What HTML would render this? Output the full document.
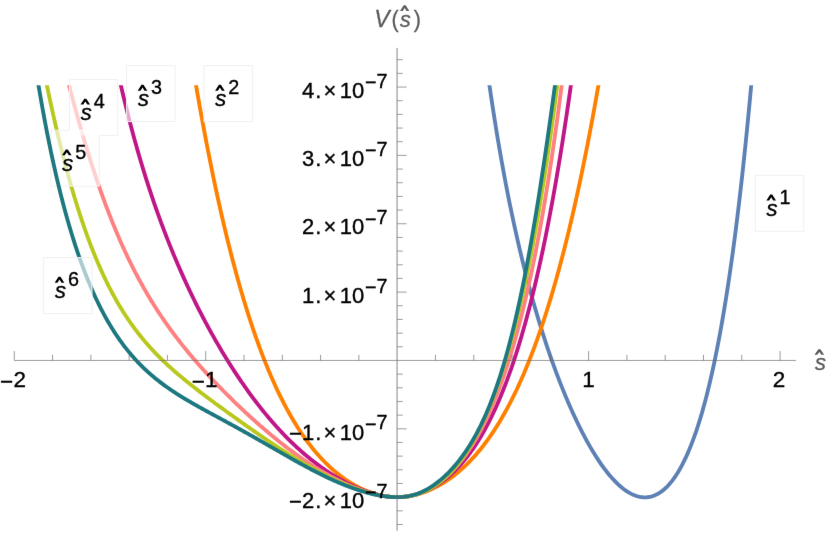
<!DOCTYPE html>
<html><head><meta charset="utf-8"><title>V(s) plot</title>
<style>
html,body{margin:0;padding:0;background:#fff;}
body{width:830px;height:535px;overflow:hidden;font-family:"Liberation Sans",sans-serif;}
svg text{font-family:"Liberation Sans",sans-serif;}
</style></head><body>
<svg width="830" height="535" viewBox="0 0 830 535" style="display:block">
<defs><filter id="soft" filterUnits="userSpaceOnUse" x="0" y="0" width="830" height="535" color-interpolation-filters="sRGB"><feConvolveMatrix order="3" kernelMatrix="0.0028 0.0470 0.0028 0.0470 0.8008 0.0470 0.0028 0.0470 0.0028" edgeMode="duplicate" preserveAlpha="true"/></filter></defs>
<g filter="url(#soft)">
<rect width="830" height="535" fill="#fff"/>
<defs><clipPath id="c"><rect x="0" y="85.2" width="830" height="449.8"/></clipPath></defs>
<path clip-path="url(#c)" fill="none" stroke-width="3.85" stroke-linejoin="round" stroke="#5E81B5" d="M487.9,74.45 L488.9,81.49 L489.9,88.41 L490.9,95.21 L491.9,101.88 L492.9,108.44 L493.9,114.89 L494.9,121.22 L495.9,127.45 L496.9,133.57 L497.9,139.59 L498.9,145.50 L499.9,151.32 L500.9,157.04 L501.9,162.66 L502.9,168.20 L503.9,173.64 L504.9,179.00 L505.9,184.27 L506.9,189.46 L507.9,194.56 L508.9,199.59 L509.9,204.54 L510.9,209.41 L511.9,214.20 L512.9,218.93 L513.9,223.58 L514.9,228.17 L515.9,232.69 L516.9,237.14 L517.9,241.52 L518.9,245.85 L519.9,250.11 L520.9,254.31 L521.9,258.45 L522.9,262.54 L523.9,266.56 L524.9,270.54 L525.9,274.46 L526.9,278.32 L527.9,282.14 L528.9,285.90 L529.9,289.61 L530.9,293.28 L531.9,296.90 L532.9,300.47 L533.9,303.99 L534.9,307.48 L535.9,310.91 L536.9,314.31 L537.9,317.66 L538.9,320.97 L539.9,324.24 L540.9,327.47 L541.9,330.66 L542.9,333.81 L543.9,336.93 L544.9,340.01 L545.9,343.05 L546.9,346.05 L547.9,349.02 L548.9,351.96 L549.9,354.86 L550.9,357.72 L551.9,360.56 L552.9,363.36 L553.9,366.12 L554.9,368.86 L555.9,371.56 L556.9,374.23 L557.9,376.87 L558.9,379.48 L559.9,382.07 L560.9,384.62 L561.9,387.14 L562.9,389.63 L563.9,392.09 L564.9,394.52 L565.9,396.93 L566.9,399.30 L567.9,401.65 L568.9,403.97 L569.9,406.26 L570.9,408.52 L571.9,410.76 L572.9,412.97 L573.9,415.15 L574.9,417.30 L575.9,419.43 L576.9,421.53 L577.9,423.60 L578.9,425.65 L579.9,427.67 L580.9,429.66 L581.9,431.62 L582.9,433.56 L583.9,435.47 L584.9,437.36 L585.9,439.22 L586.9,441.05 L587.9,442.85 L588.9,444.63 L589.9,446.38 L590.9,448.11 L591.9,449.80 L592.9,451.47 L593.9,453.12 L594.9,454.73 L595.9,456.32 L596.9,457.88 L597.9,459.42 L598.9,460.92 L599.9,462.40 L600.9,463.85 L601.9,465.28 L602.9,466.67 L603.9,468.04 L604.9,469.38 L605.9,470.69 L606.9,471.97 L607.9,473.22 L608.9,474.45 L609.9,475.64 L610.9,476.81 L611.9,477.94 L612.9,479.05 L613.9,480.13 L614.9,481.18 L615.9,482.19 L616.9,483.18 L617.9,484.13 L618.9,485.06 L619.9,485.95 L620.9,486.81 L621.9,487.64 L622.9,488.44 L623.9,489.21 L624.9,489.94 L625.9,490.64 L626.9,491.31 L627.9,491.95 L628.9,492.55 L629.9,493.11 L630.9,493.65 L631.9,494.15 L632.9,494.61 L633.9,495.04 L634.9,495.43 L635.9,495.79 L636.9,496.11 L637.9,496.40 L638.9,496.65 L639.9,496.86 L640.9,497.03 L641.9,497.16 L642.9,497.26 L643.9,497.32 L644.9,497.34 L645.9,497.31 L646.9,497.25 L647.9,497.15 L648.9,497.01 L649.9,496.82 L650.9,496.59 L651.9,496.33 L652.9,496.01 L653.9,495.66 L654.9,495.26 L655.9,494.81 L656.9,494.32 L657.9,493.78 L658.9,493.20 L659.9,492.57 L660.9,491.89 L661.9,491.17 L662.9,490.39 L663.9,489.57 L664.9,488.69 L665.9,487.77 L666.9,486.79 L667.9,485.76 L668.9,484.68 L669.9,483.54 L670.9,482.35 L671.9,481.10 L672.9,479.80 L673.9,478.44 L674.9,477.02 L675.9,475.54 L676.9,474.00 L677.9,472.40 L678.9,470.74 L679.9,469.02 L680.9,467.23 L681.9,465.38 L682.9,463.46 L683.9,461.48 L684.9,459.42 L685.9,457.30 L686.9,455.11 L687.9,452.85 L688.9,450.51 L689.9,448.10 L690.9,445.62 L691.9,443.05 L692.9,440.42 L693.9,437.70 L694.9,434.90 L695.9,432.02 L696.9,429.05 L697.9,426.00 L698.9,422.87 L699.9,419.65 L700.9,416.33 L701.9,412.93 L702.9,409.43 L703.9,405.84 L704.9,402.15 L705.9,398.37 L706.9,394.48 L707.9,390.50 L708.9,386.41 L709.9,382.21 L710.9,377.91 L711.9,373.49 L712.9,368.97 L713.9,364.33 L714.9,359.58 L715.9,354.70 L716.9,349.71 L717.9,344.60 L718.9,339.36 L719.9,333.99 L720.9,328.49 L721.9,322.86 L722.9,317.10 L723.9,311.20 L724.9,305.15 L725.9,298.97 L726.9,292.64 L727.9,286.16 L728.9,279.53 L729.9,272.75 L730.9,265.81 L731.9,258.70 L732.9,251.44 L733.9,244.01 L734.9,236.41 L735.9,228.63 L736.9,220.68 L737.9,212.55 L738.9,204.24 L739.9,195.73 L740.9,187.04 L741.9,178.16 L742.9,169.07 L743.9,159.78 L744.9,150.29 L745.9,140.59 L746.9,130.67 L747.9,120.54 L748.9,110.18 L749.9,99.60 L750.9,88.78 L751.9,77.73"/>
<rect x="755.3" y="175.3" width="48.4" height="56" fill="#fff" fill-opacity="0.62" stroke="#f0f0f0" stroke-width="1"/>
<text x="766.6" y="215.9" font-size="22" font-style="italic" stroke="#000" stroke-width="0.35">s</text>
<path fill="#000" d="M766.40,200.40 L770.21,194.50 L772.19,194.50 L776.00,200.40 L773.23,200.40 L771.20,197.29 L769.17,200.40 Z"/>
<text x="779.6" y="203.7" font-size="19.8" stroke="#000" stroke-width="0.35">1</text>
<path clip-path="url(#c)" fill="none" stroke-width="3.85" stroke-linejoin="round" stroke="#FF8000" d="M194.5,76.40 L195.5,82.28 L196.5,88.10 L197.5,93.85 L198.5,99.54 L199.5,105.17 L200.5,110.74 L201.5,116.25 L202.5,121.71 L203.5,127.10 L204.5,132.43 L205.5,137.70 L206.5,142.92 L207.5,148.08 L208.5,153.18 L209.5,158.22 L210.5,163.21 L211.5,168.14 L212.5,173.02 L213.5,177.84 L214.5,182.61 L215.5,187.32 L216.5,191.98 L217.5,196.58 L218.5,201.14 L219.5,205.64 L220.5,210.08 L221.5,214.48 L222.5,218.82 L223.5,223.12 L224.5,227.36 L225.5,231.55 L226.5,235.70 L227.5,239.79 L228.5,243.84 L229.5,247.83 L230.5,251.78 L231.5,255.68 L232.5,259.54 L233.5,263.35 L234.5,267.11 L235.5,270.82 L236.5,274.49 L237.5,278.12 L238.5,281.69 L239.5,285.23 L240.5,288.72 L241.5,292.17 L242.5,295.57 L243.5,298.94 L244.5,302.25 L245.5,305.53 L246.5,308.77 L247.5,311.96 L248.5,315.12 L249.5,318.23 L250.5,321.30 L251.5,324.33 L252.5,327.33 L253.5,330.28 L254.5,333.20 L255.5,336.08 L256.5,338.92 L257.5,341.72 L258.5,344.49 L259.5,347.22 L260.5,349.91 L261.5,352.57 L262.5,355.19 L263.5,357.77 L264.5,360.33 L265.5,362.84 L266.5,365.32 L267.5,367.77 L268.5,370.19 L269.5,372.57 L270.5,374.92 L271.5,377.24 L272.5,379.52 L273.5,381.77 L274.5,384.00 L275.5,386.19 L276.5,388.35 L277.5,390.47 L278.5,392.57 L279.5,394.64 L280.5,396.68 L281.5,398.69 L282.5,400.68 L283.5,402.63 L284.5,404.55 L285.5,406.45 L286.5,408.32 L287.5,410.16 L288.5,411.98 L289.5,413.77 L290.5,415.53 L291.5,417.27 L292.5,418.98 L293.5,420.67 L294.5,422.33 L295.5,423.96 L296.5,425.57 L297.5,427.16 L298.5,428.72 L299.5,430.26 L300.5,431.78 L301.5,433.27 L302.5,434.74 L303.5,436.18 L304.5,437.61 L305.5,439.01 L306.5,440.39 L307.5,441.75 L308.5,443.09 L309.5,444.40 L310.5,445.70 L311.5,446.97 L312.5,448.23 L313.5,449.46 L314.5,450.67 L315.5,451.87 L316.5,453.04 L317.5,454.20 L318.5,455.33 L319.5,456.45 L320.5,457.55 L321.5,458.63 L322.5,459.69 L323.5,460.74 L324.5,461.76 L325.5,462.77 L326.5,463.76 L327.5,464.74 L328.5,465.69 L329.5,466.63 L330.5,467.56 L331.5,468.46 L332.5,469.35 L333.5,470.23 L334.5,471.09 L335.5,471.93 L336.5,472.76 L337.5,473.57 L338.5,474.36 L339.5,475.14 L340.5,475.91 L341.5,476.66 L342.5,477.39 L343.5,478.12 L344.5,478.82 L345.5,479.51 L346.5,480.19 L347.5,480.85 L348.5,481.50 L349.5,482.14 L350.5,482.76 L351.5,483.37 L352.5,483.96 L353.5,484.54 L354.5,485.11 L355.5,485.66 L356.5,486.20 L357.5,486.72 L358.5,487.24 L359.5,487.74 L360.5,488.22 L361.5,488.70 L362.5,489.16 L363.5,489.61 L364.5,490.04 L365.5,490.46 L366.5,490.87 L367.5,491.27 L368.5,491.65 L369.5,492.02 L370.5,492.38 L371.5,492.72 L372.5,493.06 L373.5,493.38 L374.5,493.68 L375.5,493.98 L376.5,494.26 L377.5,494.53 L378.5,494.78 L379.5,495.03 L380.5,495.26 L381.5,495.47 L382.5,495.68 L383.5,495.87 L384.5,496.05 L385.5,496.21 L386.5,496.36 L387.5,496.50 L388.5,496.63 L389.5,496.74 L390.5,496.84 L391.5,496.93 L392.5,497.00 L393.5,497.06 L394.5,497.10 L395.5,497.13 L396.5,497.15 L397.5,497.15 L398.5,497.14 L399.5,497.11 L400.5,497.07 L401.5,497.02 L402.5,496.95 L403.5,496.87 L404.5,496.78 L405.5,496.67 L406.5,496.55 L407.5,496.41 L408.5,496.26 L409.5,496.10 L410.5,495.92 L411.5,495.74 L412.5,495.54 L413.5,495.32 L414.5,495.09 L415.5,494.85 L416.5,494.60 L417.5,494.33 L418.5,494.05 L419.5,493.76 L420.5,493.45 L421.5,493.14 L422.5,492.80 L423.5,492.46 L424.5,492.10 L425.5,491.73 L426.5,491.35 L427.5,490.95 L428.5,490.54 L429.5,490.12 L430.5,489.68 L431.5,489.23 L432.5,488.77 L433.5,488.29 L434.5,487.80 L435.5,487.30 L436.5,486.79 L437.5,486.26 L438.5,485.71 L439.5,485.16 L440.5,484.59 L441.5,484.00 L442.5,483.40 L443.5,482.79 L444.5,482.17 L445.5,481.52 L446.5,480.87 L447.5,480.20 L448.5,479.52 L449.5,478.82 L450.5,478.11 L451.5,477.38 L452.5,476.64 L453.5,475.88 L454.5,475.11 L455.5,474.32 L456.5,473.51 L457.5,472.70 L458.5,471.86 L459.5,471.01 L460.5,470.14 L461.5,469.26 L462.5,468.36 L463.5,467.45 L464.5,466.51 L465.5,465.56 L466.5,464.60 L467.5,463.61 L468.5,462.61 L469.5,461.59 L470.5,460.56 L471.5,459.50 L472.5,458.43 L473.5,457.34 L474.5,456.23 L475.5,455.11 L476.5,453.96 L477.5,452.80 L478.5,451.61 L479.5,450.41 L480.5,449.18 L481.5,447.94 L482.5,446.68 L483.5,445.39 L484.5,444.09 L485.5,442.76 L486.5,441.41 L487.5,440.05 L488.5,438.66 L489.5,437.25 L490.5,435.81 L491.5,434.36 L492.5,432.88 L493.5,431.38 L494.5,429.86 L495.5,428.31 L496.5,426.74 L497.5,425.14 L498.5,423.53 L499.5,421.88 L500.5,420.22 L501.5,418.52 L502.5,416.81 L503.5,415.07 L504.5,413.30 L505.5,411.50 L506.5,409.68 L507.5,407.84 L508.5,405.96 L509.5,404.06 L510.5,402.13 L511.5,400.18 L512.5,398.19 L513.5,396.18 L514.5,394.14 L515.5,392.07 L516.5,389.97 L517.5,387.84 L518.5,385.68 L519.5,383.49 L520.5,381.27 L521.5,379.02 L522.5,376.74 L523.5,374.43 L524.5,372.08 L525.5,369.71 L526.5,367.30 L527.5,364.85 L528.5,362.38 L529.5,359.87 L530.5,357.33 L531.5,354.75 L532.5,352.14 L533.5,349.49 L534.5,346.81 L535.5,344.09 L536.5,341.34 L537.5,338.55 L538.5,335.73 L539.5,332.86 L540.5,329.96 L541.5,327.03 L542.5,324.05 L543.5,321.04 L544.5,317.98 L545.5,314.89 L546.5,311.76 L547.5,308.59 L548.5,305.38 L549.5,302.12 L550.5,298.83 L551.5,295.50 L552.5,292.12 L553.5,288.70 L554.5,285.24 L555.5,281.74 L556.5,278.19 L557.5,274.60 L558.5,270.96 L559.5,267.28 L560.5,263.56 L561.5,259.79 L562.5,255.97 L563.5,252.11 L564.5,248.21 L565.5,244.25 L566.5,240.25 L567.5,236.20 L568.5,232.10 L569.5,227.96 L570.5,223.76 L571.5,219.52 L572.5,215.23 L573.5,210.88 L574.5,206.49 L575.5,202.04 L576.5,197.55 L577.5,193.00 L578.5,188.40 L579.5,183.75 L580.5,179.04 L581.5,174.29 L582.5,169.47 L583.5,164.61 L584.5,159.69 L585.5,154.71 L586.5,149.68 L587.5,144.59 L588.5,139.45 L589.5,134.25 L590.5,128.99 L591.5,123.68 L592.5,118.31 L593.5,112.88 L594.5,107.39 L595.5,101.84 L596.5,96.23 L597.5,90.56 L598.5,84.84 L599.5,79.05"/>
<rect x="204" y="65.6" width="48.4" height="56" fill="#fff" fill-opacity="0.62" stroke="#f0f0f0" stroke-width="1"/>
<text x="215.3" y="106.2" font-size="22" font-style="italic" stroke="#000" stroke-width="0.35">s</text>
<path fill="#000" d="M215.10,90.70 L218.91,84.80 L220.89,84.80 L224.70,90.70 L221.93,90.70 L219.90,87.59 L217.87,90.70 Z"/>
<text x="228.3" y="94.0" font-size="19.8" stroke="#000" stroke-width="0.35">2</text>
<path clip-path="url(#c)" fill="none" stroke-width="3.85" stroke-linejoin="round" stroke="#C01788" d="M119.3,78.58 L120.3,82.96 L121.3,87.29 L122.3,91.56 L123.3,95.77 L124.3,99.93 L125.3,104.03 L126.3,108.08 L127.3,112.07 L128.3,116.02 L129.3,119.91 L130.3,123.76 L131.3,127.55 L132.3,131.30 L133.3,135.01 L134.3,138.66 L135.3,142.28 L136.3,145.85 L137.3,149.37 L138.3,152.86 L139.3,156.30 L140.3,159.70 L141.3,163.07 L142.3,166.39 L143.3,169.68 L144.3,172.92 L145.3,176.14 L146.3,179.31 L147.3,182.45 L148.3,185.56 L149.3,188.63 L150.3,191.67 L151.3,194.68 L152.3,197.65 L153.3,200.60 L154.3,203.51 L155.3,206.39 L156.3,209.24 L157.3,212.07 L158.3,214.86 L159.3,217.63 L160.3,220.37 L161.3,223.09 L162.3,225.77 L163.3,228.43 L164.3,231.07 L165.3,233.68 L166.3,236.27 L167.3,238.83 L168.3,241.37 L169.3,243.88 L170.3,246.38 L171.3,248.85 L172.3,251.29 L173.3,253.72 L174.3,256.13 L175.3,258.51 L176.3,260.87 L177.3,263.22 L178.3,265.54 L179.3,267.85 L180.3,270.13 L181.3,272.40 L182.3,274.64 L183.3,276.87 L184.3,279.09 L185.3,281.28 L186.3,283.45 L187.3,285.61 L188.3,287.76 L189.3,289.88 L190.3,291.99 L191.3,294.08 L192.3,296.16 L193.3,298.22 L194.3,300.26 L195.3,302.29 L196.3,304.31 L197.3,306.31 L198.3,308.29 L199.3,310.26 L200.3,312.22 L201.3,314.16 L202.3,316.09 L203.3,318.00 L204.3,319.90 L205.3,321.79 L206.3,323.66 L207.3,325.52 L208.3,327.37 L209.3,329.20 L210.3,331.02 L211.3,332.83 L212.3,334.62 L213.3,336.41 L214.3,338.17 L215.3,339.93 L216.3,341.68 L217.3,343.41 L218.3,345.13 L219.3,346.84 L220.3,348.54 L221.3,350.22 L222.3,351.90 L223.3,353.56 L224.3,355.21 L225.3,356.85 L226.3,358.48 L227.3,360.09 L228.3,361.70 L229.3,363.29 L230.3,364.87 L231.3,366.45 L232.3,368.01 L233.3,369.56 L234.3,371.09 L235.3,372.62 L236.3,374.14 L237.3,375.65 L238.3,377.14 L239.3,378.63 L240.3,380.10 L241.3,381.57 L242.3,383.02 L243.3,384.46 L244.3,385.90 L245.3,387.32 L246.3,388.73 L247.3,390.13 L248.3,391.52 L249.3,392.90 L250.3,394.28 L251.3,395.64 L252.3,396.99 L253.3,398.33 L254.3,399.66 L255.3,400.98 L256.3,402.29 L257.3,403.59 L258.3,404.88 L259.3,406.16 L260.3,407.43 L261.3,408.69 L262.3,409.94 L263.3,411.18 L264.3,412.41 L265.3,413.63 L266.3,414.85 L267.3,416.05 L268.3,417.24 L269.3,418.42 L270.3,419.60 L271.3,420.76 L272.3,421.91 L273.3,423.06 L274.3,424.19 L275.3,425.32 L276.3,426.43 L277.3,427.54 L278.3,428.64 L279.3,429.72 L280.3,430.80 L281.3,431.87 L282.3,432.93 L283.3,433.98 L284.3,435.02 L285.3,436.05 L286.3,437.07 L287.3,438.09 L288.3,439.09 L289.3,440.08 L290.3,441.07 L291.3,442.05 L292.3,443.01 L293.3,443.97 L294.3,444.92 L295.3,445.86 L296.3,446.79 L297.3,447.72 L298.3,448.63 L299.3,449.54 L300.3,450.43 L301.3,451.32 L302.3,452.20 L303.3,453.07 L304.3,453.93 L305.3,454.78 L306.3,455.63 L307.3,456.46 L308.3,457.29 L309.3,458.11 L310.3,458.92 L311.3,459.72 L312.3,460.51 L313.3,461.30 L314.3,462.08 L315.3,462.84 L316.3,463.60 L317.3,464.36 L318.3,465.10 L319.3,465.83 L320.3,466.56 L321.3,467.28 L322.3,467.99 L323.3,468.69 L324.3,469.39 L325.3,470.07 L326.3,470.75 L327.3,471.42 L328.3,472.08 L329.3,472.74 L330.3,473.38 L331.3,474.02 L332.3,474.65 L333.3,475.27 L334.3,475.89 L335.3,476.50 L336.3,477.09 L337.3,477.68 L338.3,478.27 L339.3,478.84 L340.3,479.41 L341.3,479.97 L342.3,480.52 L343.3,481.06 L344.3,481.60 L345.3,482.12 L346.3,482.64 L347.3,483.16 L348.3,483.66 L349.3,484.15 L350.3,484.64 L351.3,485.12 L352.3,485.59 L353.3,486.06 L354.3,486.51 L355.3,486.96 L356.3,487.40 L357.3,487.83 L358.3,488.25 L359.3,488.66 L360.3,489.07 L361.3,489.46 L362.3,489.85 L363.3,490.23 L364.3,490.60 L365.3,490.96 L366.3,491.32 L367.3,491.66 L368.3,492.00 L369.3,492.32 L370.3,492.64 L371.3,492.95 L372.3,493.24 L373.3,493.53 L374.3,493.81 L375.3,494.08 L376.3,494.34 L377.3,494.59 L378.3,494.82 L379.3,495.05 L380.3,495.27 L381.3,495.48 L382.3,495.67 L383.3,495.86 L384.3,496.03 L385.3,496.19 L386.3,496.34 L387.3,496.48 L388.3,496.60 L389.3,496.72 L390.3,496.82 L391.3,496.91 L392.3,496.98 L393.3,497.04 L394.3,497.09 L395.3,497.12 L396.3,497.14 L397.3,497.15 L398.3,497.14 L399.3,497.12 L400.3,497.08 L401.3,497.02 L402.3,496.96 L403.3,496.87 L404.3,496.78 L405.3,496.66 L406.3,496.54 L407.3,496.39 L408.3,496.24 L409.3,496.06 L410.3,495.88 L411.3,495.67 L412.3,495.46 L413.3,495.23 L414.3,494.98 L415.3,494.71 L416.3,494.44 L417.3,494.14 L418.3,493.83 L419.3,493.51 L420.3,493.17 L421.3,492.81 L422.3,492.44 L423.3,492.05 L424.3,491.65 L425.3,491.23 L426.3,490.79 L427.3,490.34 L428.3,489.87 L429.3,489.38 L430.3,488.88 L431.3,488.36 L432.3,487.82 L433.3,487.26 L434.3,486.69 L435.3,486.10 L436.3,485.49 L437.3,484.86 L438.3,484.22 L439.3,483.56 L440.3,482.87 L441.3,482.17 L442.3,481.45 L443.3,480.71 L444.3,479.96 L445.3,479.18 L446.3,478.38 L447.3,477.56 L448.3,476.72 L449.3,475.86 L450.3,474.98 L451.3,474.08 L452.3,473.16 L453.3,472.22 L454.3,471.25 L455.3,470.26 L456.3,469.25 L457.3,468.22 L458.3,467.16 L459.3,466.08 L460.3,464.98 L461.3,463.85 L462.3,462.70 L463.3,461.52 L464.3,460.32 L465.3,459.09 L466.3,457.84 L467.3,456.56 L468.3,455.26 L469.3,453.93 L470.3,452.57 L471.3,451.18 L472.3,449.77 L473.3,448.33 L474.3,446.86 L475.3,445.36 L476.3,443.83 L477.3,442.27 L478.3,440.68 L479.3,439.06 L480.3,437.41 L481.3,435.73 L482.3,434.02 L483.3,432.27 L484.3,430.49 L485.3,428.68 L486.3,426.84 L487.3,424.96 L488.3,423.04 L489.3,421.09 L490.3,419.11 L491.3,417.09 L492.3,415.03 L493.3,412.94 L494.3,410.80 L495.3,408.63 L496.3,406.43 L497.3,404.18 L498.3,401.89 L499.3,399.56 L500.3,397.19 L501.3,394.78 L502.3,392.33 L503.3,389.83 L504.3,387.30 L505.3,384.71 L506.3,382.09 L507.3,379.42 L508.3,376.70 L509.3,373.94 L510.3,371.13 L511.3,368.27 L512.3,365.37 L513.3,362.42 L514.3,359.41 L515.3,356.36 L516.3,353.26 L517.3,350.10 L518.3,346.90 L519.3,343.64 L520.3,340.33 L521.3,336.96 L522.3,333.54 L523.3,330.07 L524.3,326.53 L525.3,322.95 L526.3,319.30 L527.3,315.59 L528.3,311.83 L529.3,308.01 L530.3,304.12 L531.3,300.18 L532.3,296.17 L533.3,292.10 L534.3,287.97 L535.3,283.77 L536.3,279.50 L537.3,275.17 L538.3,270.78 L539.3,266.31 L540.3,261.78 L541.3,257.18 L542.3,252.51 L543.3,247.76 L544.3,242.95 L545.3,238.06 L546.3,233.10 L547.3,228.06 L548.3,222.95 L549.3,217.76 L550.3,212.49 L551.3,207.15 L552.3,201.72 L553.3,196.22 L554.3,190.64 L555.3,184.97 L556.3,179.22 L557.3,173.39 L558.3,167.47 L559.3,161.46 L560.3,155.37 L561.3,149.19 L562.3,142.93 L563.3,136.57 L564.3,130.12 L565.3,123.58 L566.3,116.95 L567.3,110.22 L568.3,103.40 L569.3,96.48 L570.3,89.47 L571.3,82.35"/>
<rect x="126.6" y="65.6" width="48.4" height="56" fill="#fff" fill-opacity="0.62" stroke="#f0f0f0" stroke-width="1"/>
<text x="137.9" y="106.2" font-size="22" font-style="italic" stroke="#000" stroke-width="0.35">s</text>
<path fill="#000" d="M137.70,90.70 L141.51,84.80 L143.49,84.80 L147.30,90.70 L144.53,90.70 L142.50,87.59 L140.47,90.70 Z"/>
<text x="150.9" y="94.0" font-size="19.8" stroke="#000" stroke-width="0.35">3</text>
<path clip-path="url(#c)" fill="none" stroke-width="3.85" stroke-linejoin="round" stroke="#FF8080" d="M67.4,78.76 L68.4,82.68 L69.4,86.57 L70.4,90.42 L71.4,94.24 L72.4,98.03 L73.4,101.78 L74.4,105.49 L75.4,109.18 L76.4,112.82 L77.4,116.44 L78.4,120.02 L79.4,123.56 L80.4,127.07 L81.4,130.55 L82.4,133.99 L83.4,137.40 L84.4,140.78 L85.4,144.12 L86.4,147.43 L87.4,150.70 L88.4,153.94 L89.4,157.15 L90.4,160.32 L91.4,163.46 L92.4,166.57 L93.4,169.65 L94.4,172.69 L95.4,175.70 L96.4,178.68 L97.4,181.63 L98.4,184.54 L99.4,187.43 L100.4,190.28 L101.4,193.10 L102.4,195.89 L103.4,198.65 L104.4,201.39 L105.4,204.09 L106.4,206.76 L107.4,209.40 L108.4,212.01 L109.4,214.59 L110.4,217.15 L111.4,219.67 L112.4,222.17 L113.4,224.64 L114.4,227.09 L115.4,229.50 L116.4,231.89 L117.4,234.25 L118.4,236.59 L119.4,238.90 L120.4,241.18 L121.4,243.44 L122.4,245.67 L123.4,247.88 L124.4,250.07 L125.4,252.23 L126.4,254.36 L127.4,256.48 L128.4,258.57 L129.4,260.63 L130.4,262.68 L131.4,264.70 L132.4,266.70 L133.4,268.68 L134.4,270.63 L135.4,272.57 L136.4,274.48 L137.4,276.38 L138.4,278.25 L139.4,280.11 L140.4,281.94 L141.4,283.76 L142.4,285.55 L143.4,287.33 L144.4,289.09 L145.4,290.83 L146.4,292.56 L147.4,294.26 L148.4,295.95 L149.4,297.62 L150.4,299.28 L151.4,300.92 L152.4,302.54 L153.4,304.15 L154.4,305.74 L155.4,307.32 L156.4,308.88 L157.4,310.43 L158.4,311.96 L159.4,313.48 L160.4,314.99 L161.4,316.48 L162.4,317.96 L163.4,319.42 L164.4,320.88 L165.4,322.32 L166.4,323.74 L167.4,325.16 L168.4,326.56 L169.4,327.96 L170.4,329.34 L171.4,330.71 L172.4,332.07 L173.4,333.41 L174.4,334.75 L175.4,336.08 L176.4,337.40 L177.4,338.70 L178.4,340.00 L179.4,341.29 L180.4,342.57 L181.4,343.84 L182.4,345.10 L183.4,346.35 L184.4,347.60 L185.4,348.83 L186.4,350.06 L187.4,351.28 L188.4,352.49 L189.4,353.69 L190.4,354.89 L191.4,356.08 L192.4,357.26 L193.4,358.43 L194.4,359.60 L195.4,360.76 L196.4,361.92 L197.4,363.06 L198.4,364.21 L199.4,365.34 L200.4,366.47 L201.4,367.59 L202.4,368.71 L203.4,369.82 L204.4,370.93 L205.4,372.03 L206.4,373.12 L207.4,374.21 L208.4,375.29 L209.4,376.37 L210.4,377.45 L211.4,378.52 L212.4,379.58 L213.4,380.64 L214.4,381.69 L215.4,382.74 L216.4,383.79 L217.4,384.83 L218.4,385.86 L219.4,386.90 L220.4,387.92 L221.4,388.95 L222.4,389.97 L223.4,390.98 L224.4,391.99 L225.4,393.00 L226.4,394.00 L227.4,395.00 L228.4,395.99 L229.4,396.98 L230.4,397.97 L231.4,398.95 L232.4,399.93 L233.4,400.90 L234.4,401.88 L235.4,402.84 L236.4,403.81 L237.4,404.77 L238.4,405.72 L239.4,406.68 L240.4,407.62 L241.4,408.57 L242.4,409.51 L243.4,410.45 L244.4,411.38 L245.4,412.31 L246.4,413.24 L247.4,414.16 L248.4,415.08 L249.4,416.00 L250.4,416.91 L251.4,417.82 L252.4,418.72 L253.4,419.62 L254.4,420.52 L255.4,421.41 L256.4,422.30 L257.4,423.19 L258.4,424.07 L259.4,424.95 L260.4,425.83 L261.4,426.70 L262.4,427.56 L263.4,428.43 L264.4,429.28 L265.4,430.14 L266.4,430.99 L267.4,431.84 L268.4,432.68 L269.4,433.52 L270.4,434.36 L271.4,435.19 L272.4,436.02 L273.4,436.84 L274.4,437.66 L275.4,438.47 L276.4,439.28 L277.4,440.09 L278.4,440.89 L279.4,441.69 L280.4,442.48 L281.4,443.27 L282.4,444.06 L283.4,444.84 L284.4,445.62 L285.4,446.39 L286.4,447.16 L287.4,447.92 L288.4,448.68 L289.4,449.43 L290.4,450.18 L291.4,450.92 L292.4,451.66 L293.4,452.40 L294.4,453.13 L295.4,453.86 L296.4,454.58 L297.4,455.30 L298.4,456.01 L299.4,456.71 L300.4,457.42 L301.4,458.11 L302.4,458.81 L303.4,459.49 L304.4,460.18 L305.4,460.85 L306.4,461.53 L307.4,462.19 L308.4,462.86 L309.4,463.51 L310.4,464.17 L311.4,464.81 L312.4,465.46 L313.4,466.09 L314.4,466.73 L315.4,467.35 L316.4,467.97 L317.4,468.59 L318.4,469.20 L319.4,469.81 L320.4,470.41 L321.4,471.00 L322.4,471.59 L323.4,472.18 L324.4,472.75 L325.4,473.33 L326.4,473.90 L327.4,474.46 L328.4,475.02 L329.4,475.57 L330.4,476.11 L331.4,476.65 L332.4,477.19 L333.4,477.72 L334.4,478.24 L335.4,478.76 L336.4,479.27 L337.4,479.78 L338.4,480.28 L339.4,480.77 L340.4,481.26 L341.4,481.75 L342.4,482.22 L343.4,482.70 L344.4,483.16 L345.4,483.62 L346.4,484.07 L347.4,484.52 L348.4,484.96 L349.4,485.40 L350.4,485.83 L351.4,486.25 L352.4,486.66 L353.4,487.07 L354.4,487.48 L355.4,487.87 L356.4,488.26 L357.4,488.65 L358.4,489.02 L359.4,489.39 L360.4,489.75 L361.4,490.11 L362.4,490.46 L363.4,490.80 L364.4,491.13 L365.4,491.46 L366.4,491.78 L367.4,492.09 L368.4,492.40 L369.4,492.69 L370.4,492.98 L371.4,493.26 L372.4,493.53 L373.4,493.80 L374.4,494.05 L375.4,494.30 L376.4,494.54 L377.4,494.77 L378.4,494.99 L379.4,495.20 L380.4,495.40 L381.4,495.59 L382.4,495.77 L383.4,495.94 L384.4,496.10 L385.4,496.25 L386.4,496.39 L387.4,496.52 L388.4,496.64 L389.4,496.75 L390.4,496.84 L391.4,496.92 L392.4,496.99 L393.4,497.05 L394.4,497.10 L395.4,497.13 L396.4,497.15 L397.4,497.15 L398.4,497.14 L399.4,497.11 L400.4,497.08 L401.4,497.02 L402.4,496.95 L403.4,496.87 L404.4,496.77 L405.4,496.65 L406.4,496.52 L407.4,496.38 L408.4,496.22 L409.4,496.04 L410.4,495.85 L411.4,495.64 L412.4,495.41 L413.4,495.17 L414.4,494.91 L415.4,494.64 L416.4,494.34 L417.4,494.03 L418.4,493.71 L419.4,493.36 L420.4,493.00 L421.4,492.62 L422.4,492.22 L423.4,491.80 L424.4,491.37 L425.4,490.92 L426.4,490.45 L427.4,489.96 L428.4,489.45 L429.4,488.92 L430.4,488.37 L431.4,487.81 L432.4,487.22 L433.4,486.61 L434.4,485.99 L435.4,485.34 L436.4,484.67 L437.4,483.99 L438.4,483.28 L439.4,482.55 L440.4,481.80 L441.4,481.02 L442.4,480.23 L443.4,479.41 L444.4,478.57 L445.4,477.71 L446.4,476.83 L447.4,475.92 L448.4,474.99 L449.4,474.04 L450.4,473.06 L451.4,472.06 L452.4,471.03 L453.4,469.98 L454.4,468.90 L455.4,467.80 L456.4,466.68 L457.4,465.52 L458.4,464.34 L459.4,463.14 L460.4,461.91 L461.4,460.65 L462.4,459.36 L463.4,458.04 L464.4,456.70 L465.4,455.33 L466.4,453.92 L467.4,452.49 L468.4,451.03 L469.4,449.54 L470.4,448.01 L471.4,446.46 L472.4,444.87 L473.4,443.25 L474.4,441.60 L475.4,439.92 L476.4,438.20 L477.4,436.45 L478.4,434.66 L479.4,432.84 L480.4,430.98 L481.4,429.09 L482.4,427.16 L483.4,425.19 L484.4,423.18 L485.4,421.14 L486.4,419.05 L487.4,416.93 L488.4,414.77 L489.4,412.56 L490.4,410.31 L491.4,408.03 L492.4,405.69 L493.4,403.32 L494.4,400.90 L495.4,398.43 L496.4,395.92 L497.4,393.37 L498.4,390.76 L499.4,388.11 L500.4,385.41 L501.4,382.66 L502.4,379.86 L503.4,377.00 L504.4,374.10 L505.4,371.14 L506.4,368.13 L507.4,365.06 L508.4,361.94 L509.4,358.76 L510.4,355.53 L511.4,352.24 L512.4,348.88 L513.4,345.47 L514.4,342.00 L515.4,338.46 L516.4,334.86 L517.4,331.20 L518.4,327.47 L519.4,323.67 L520.4,319.81 L521.4,315.88 L522.4,311.88 L523.4,307.81 L524.4,303.67 L525.4,299.45 L526.4,295.16 L527.4,290.79 L528.4,286.35 L529.4,281.83 L530.4,277.23 L531.4,272.55 L532.4,267.79 L533.4,262.94 L534.4,258.01 L535.4,253.00 L536.4,247.90 L537.4,242.70 L538.4,237.42 L539.4,232.05 L540.4,226.59 L541.4,221.03 L542.4,215.37 L543.4,209.62 L544.4,203.77 L545.4,197.82 L546.4,191.77 L547.4,185.61 L548.4,179.35 L549.4,172.98 L550.4,166.51 L551.4,159.92 L552.4,153.22 L553.4,146.41 L554.4,139.48 L555.4,132.44 L556.4,125.28 L557.4,117.99 L558.4,110.59 L559.4,103.06 L560.4,95.40 L561.4,87.62 L562.4,79.71"/>
<rect x="69.4" y="79.5" width="48.4" height="56" fill="#fff" fill-opacity="0.62"/>
<path d="M69.4,130.2 V79.5 H117.80000000000001 V135.5 H99.3" fill="none" stroke="#f0f0f0" stroke-width="1"/>
<text x="80.7" y="120.1" font-size="22" font-style="italic" stroke="#000" stroke-width="0.35">s</text>
<path fill="#000" d="M80.50,104.60 L84.31,98.70 L86.29,98.70 L90.10,104.60 L87.33,104.60 L85.30,101.49 L83.27,104.60 Z"/>
<text x="93.7" y="107.9" font-size="19.8" stroke="#000" stroke-width="0.35">4</text>
<path clip-path="url(#c)" fill="none" stroke-width="3.85" stroke-linejoin="round" stroke="#B8C81E" d="M45.4,78.10 L46.4,83.00 L47.4,87.84 L48.4,92.62 L49.4,97.34 L50.4,102.00 L51.4,106.60 L52.4,111.15 L53.4,115.63 L54.4,120.05 L55.4,124.42 L56.4,128.72 L57.4,132.98 L58.4,137.17 L59.4,141.31 L60.4,145.39 L61.4,149.42 L62.4,153.39 L63.4,157.31 L64.4,161.17 L65.4,164.98 L66.4,168.74 L67.4,172.44 L68.4,176.09 L69.4,179.69 L70.4,183.24 L71.4,186.74 L72.4,190.19 L73.4,193.59 L74.4,196.95 L75.4,200.25 L76.4,203.50 L77.4,206.71 L78.4,209.87 L79.4,212.99 L80.4,216.05 L81.4,219.08 L82.4,222.06 L83.4,224.99 L84.4,227.88 L85.4,230.73 L86.4,233.53 L87.4,236.30 L88.4,239.02 L89.4,241.70 L90.4,244.34 L91.4,246.94 L92.4,249.50 L93.4,252.02 L94.4,254.50 L95.4,256.95 L96.4,259.36 L97.4,261.73 L98.4,264.06 L99.4,266.36 L100.4,268.62 L101.4,270.85 L102.4,273.05 L103.4,275.21 L104.4,277.34 L105.4,279.43 L106.4,281.50 L107.4,283.53 L108.4,285.53 L109.4,287.50 L110.4,289.44 L111.4,291.35 L112.4,293.24 L113.4,295.09 L114.4,296.91 L115.4,298.71 L116.4,300.48 L117.4,302.22 L118.4,303.94 L119.4,305.63 L120.4,307.30 L121.4,308.94 L122.4,310.56 L123.4,312.15 L124.4,313.72 L125.4,315.27 L126.4,316.79 L127.4,318.30 L128.4,319.78 L129.4,321.24 L130.4,322.68 L131.4,324.09 L132.4,325.49 L133.4,326.87 L134.4,328.23 L135.4,329.57 L136.4,330.89 L137.4,332.20 L138.4,333.49 L139.4,334.76 L140.4,336.01 L141.4,337.25 L142.4,338.47 L143.4,339.68 L144.4,340.87 L145.4,342.04 L146.4,343.20 L147.4,344.35 L148.4,345.48 L149.4,346.60 L150.4,347.71 L151.4,348.80 L152.4,349.88 L153.4,350.95 L154.4,352.01 L155.4,353.05 L156.4,354.09 L157.4,355.11 L158.4,356.12 L159.4,357.12 L160.4,358.11 L161.4,359.10 L162.4,360.07 L163.4,361.03 L164.4,361.99 L165.4,362.93 L166.4,363.87 L167.4,364.80 L168.4,365.72 L169.4,366.63 L170.4,367.54 L171.4,368.43 L172.4,369.32 L173.4,370.21 L174.4,371.09 L175.4,371.96 L176.4,372.82 L177.4,373.68 L178.4,374.54 L179.4,375.38 L180.4,376.22 L181.4,377.06 L182.4,377.89 L183.4,378.72 L184.4,379.54 L185.4,380.36 L186.4,381.17 L187.4,381.98 L188.4,382.79 L189.4,383.59 L190.4,384.39 L191.4,385.18 L192.4,385.97 L193.4,386.76 L194.4,387.54 L195.4,388.32 L196.4,389.10 L197.4,389.88 L198.4,390.65 L199.4,391.42 L200.4,392.18 L201.4,392.95 L202.4,393.71 L203.4,394.47 L204.4,395.23 L205.4,395.98 L206.4,396.74 L207.4,397.49 L208.4,398.24 L209.4,398.99 L210.4,399.73 L211.4,400.48 L212.4,401.22 L213.4,401.96 L214.4,402.70 L215.4,403.44 L216.4,404.18 L217.4,404.91 L218.4,405.65 L219.4,406.38 L220.4,407.11 L221.4,407.84 L222.4,408.57 L223.4,409.30 L224.4,410.03 L225.4,410.76 L226.4,411.48 L227.4,412.20 L228.4,412.93 L229.4,413.65 L230.4,414.37 L231.4,415.09 L232.4,415.81 L233.4,416.53 L234.4,417.25 L235.4,417.96 L236.4,418.68 L237.4,419.39 L238.4,420.11 L239.4,420.82 L240.4,421.53 L241.4,422.24 L242.4,422.95 L243.4,423.66 L244.4,424.37 L245.4,425.07 L246.4,425.78 L247.4,426.48 L248.4,427.18 L249.4,427.89 L250.4,428.59 L251.4,429.29 L252.4,429.98 L253.4,430.68 L254.4,431.38 L255.4,432.07 L256.4,432.76 L257.4,433.46 L258.4,434.15 L259.4,434.83 L260.4,435.52 L261.4,436.21 L262.4,436.89 L263.4,437.57 L264.4,438.26 L265.4,438.93 L266.4,439.61 L267.4,440.29 L268.4,440.96 L269.4,441.64 L270.4,442.31 L271.4,442.97 L272.4,443.64 L273.4,444.31 L274.4,444.97 L275.4,445.63 L276.4,446.29 L277.4,446.94 L278.4,447.60 L279.4,448.25 L280.4,448.90 L281.4,449.55 L282.4,450.19 L283.4,450.84 L284.4,451.48 L285.4,452.12 L286.4,452.75 L287.4,453.38 L288.4,454.01 L289.4,454.64 L290.4,455.27 L291.4,455.89 L292.4,456.51 L293.4,457.13 L294.4,457.74 L295.4,458.35 L296.4,458.96 L297.4,459.57 L298.4,460.17 L299.4,460.77 L300.4,461.37 L301.4,461.96 L302.4,462.55 L303.4,463.14 L304.4,463.72 L305.4,464.30 L306.4,464.88 L307.4,465.45 L308.4,466.02 L309.4,466.59 L310.4,467.16 L311.4,467.72 L312.4,468.27 L313.4,468.83 L314.4,469.38 L315.4,469.92 L316.4,470.47 L317.4,471.01 L318.4,471.54 L319.4,472.07 L320.4,472.60 L321.4,473.12 L322.4,473.65 L323.4,474.16 L324.4,474.67 L325.4,475.18 L326.4,475.69 L327.4,476.19 L328.4,476.68 L329.4,477.18 L330.4,477.66 L331.4,478.15 L332.4,478.63 L333.4,479.10 L334.4,479.57 L335.4,480.04 L336.4,480.50 L337.4,480.96 L338.4,481.41 L339.4,481.86 L340.4,482.31 L341.4,482.75 L342.4,483.18 L343.4,483.61 L344.4,484.04 L345.4,484.46 L346.4,484.87 L347.4,485.28 L348.4,485.69 L349.4,486.09 L350.4,486.48 L351.4,486.87 L352.4,487.26 L353.4,487.64 L354.4,488.01 L355.4,488.38 L356.4,488.74 L357.4,489.10 L358.4,489.45 L359.4,489.80 L360.4,490.13 L361.4,490.47 L362.4,490.79 L363.4,491.11 L364.4,491.43 L365.4,491.74 L366.4,492.04 L367.4,492.33 L368.4,492.62 L369.4,492.90 L370.4,493.17 L371.4,493.44 L372.4,493.69 L373.4,493.94 L374.4,494.19 L375.4,494.42 L376.4,494.65 L377.4,494.87 L378.4,495.08 L379.4,495.28 L380.4,495.47 L381.4,495.65 L382.4,495.83 L383.4,495.99 L384.4,496.14 L385.4,496.29 L386.4,496.42 L387.4,496.55 L388.4,496.66 L389.4,496.76 L390.4,496.85 L391.4,496.93 L392.4,497.00 L393.4,497.06 L394.4,497.10 L395.4,497.13 L396.4,497.15 L397.4,497.15 L398.4,497.14 L399.4,497.12 L400.4,497.08 L401.4,497.03 L402.4,496.96 L403.4,496.88 L404.4,496.78 L405.4,496.67 L406.4,496.54 L407.4,496.40 L408.4,496.24 L409.4,496.07 L410.4,495.88 L411.4,495.68 L412.4,495.46 L413.4,495.22 L414.4,494.96 L415.4,494.69 L416.4,494.40 L417.4,494.10 L418.4,493.77 L419.4,493.43 L420.4,493.07 L421.4,492.70 L422.4,492.30 L423.4,491.88 L424.4,491.45 L425.4,491.00 L426.4,490.53 L427.4,490.03 L428.4,489.52 L429.4,488.99 L430.4,488.44 L431.4,487.86 L432.4,487.27 L433.4,486.65 L434.4,486.02 L435.4,485.36 L436.4,484.68 L437.4,483.97 L438.4,483.25 L439.4,482.50 L440.4,481.73 L441.4,480.93 L442.4,480.11 L443.4,479.26 L444.4,478.40 L445.4,477.50 L446.4,476.58 L447.4,475.64 L448.4,474.67 L449.4,473.67 L450.4,472.64 L451.4,471.59 L452.4,470.51 L453.4,469.41 L454.4,468.27 L455.4,467.11 L456.4,465.91 L457.4,464.69 L458.4,463.44 L459.4,462.16 L460.4,460.84 L461.4,459.50 L462.4,458.12 L463.4,456.71 L464.4,455.27 L465.4,453.79 L466.4,452.29 L467.4,450.74 L468.4,449.17 L469.4,447.56 L470.4,445.91 L471.4,444.22 L472.4,442.50 L473.4,440.75 L474.4,438.95 L475.4,437.12 L476.4,435.25 L477.4,433.34 L478.4,431.38 L479.4,429.39 L480.4,427.36 L481.4,425.28 L482.4,423.17 L483.4,421.01 L484.4,418.80 L485.4,416.56 L486.4,414.26 L487.4,411.92 L488.4,409.54 L489.4,407.11 L490.4,404.63 L491.4,402.10 L492.4,399.53 L493.4,396.90 L494.4,394.22 L495.4,391.50 L496.4,388.72 L497.4,385.89 L498.4,383.00 L499.4,380.06 L500.4,377.07 L501.4,374.02 L502.4,370.91 L503.4,367.75 L504.4,364.52 L505.4,361.24 L506.4,357.90 L507.4,354.50 L508.4,351.03 L509.4,347.51 L510.4,343.92 L511.4,340.26 L512.4,336.54 L513.4,332.76 L514.4,328.91 L515.4,324.98 L516.4,320.99 L517.4,316.93 L518.4,312.80 L519.4,308.60 L520.4,304.32 L521.4,299.97 L522.4,295.55 L523.4,291.05 L524.4,286.47 L525.4,281.81 L526.4,277.07 L527.4,272.25 L528.4,267.36 L529.4,262.37 L530.4,257.31 L531.4,252.16 L532.4,246.92 L533.4,241.60 L534.4,236.18 L535.4,230.68 L536.4,225.08 L537.4,219.40 L538.4,213.62 L539.4,207.74 L540.4,201.77 L541.4,195.70 L542.4,189.54 L543.4,183.27 L544.4,176.90 L545.4,170.43 L546.4,163.85 L547.4,157.17 L548.4,150.38 L549.4,143.49 L550.4,136.48 L551.4,129.36 L552.4,122.13 L553.4,114.79 L554.4,107.33 L555.4,99.75 L556.4,92.06 L557.4,84.24 L558.4,76.30"/>
<rect x="50.9" y="130.2" width="48.4" height="56" fill="#fff" fill-opacity="0.62"/>
<path d="M69.4,130.2 H50.9 V186.2 H99.3 V135.5" fill="none" stroke="#f0f0f0" stroke-width="1"/>
<path d="M69.4,130.2 H99.3" fill="none" stroke="#fff" stroke-opacity="0.6" stroke-width="1.6"/>
<text x="62.2" y="170.8" font-size="22" font-style="italic" stroke="#000" stroke-width="0.35">s</text>
<path fill="#000" d="M62.00,155.30 L65.81,149.40 L67.79,149.40 L71.60,155.30 L68.83,155.30 L66.80,152.19 L64.77,155.30 Z"/>
<text x="75.2" y="158.6" font-size="19.8" stroke="#000" stroke-width="0.35">5</text>
<path clip-path="url(#c)" fill="none" stroke-width="3.85" stroke-linejoin="round" stroke="#1E7880" d="M36.8,75.00 L37.8,81.11 L38.8,87.10 L39.8,92.99 L40.8,98.76 L41.8,104.43 L42.8,110.00 L43.8,115.47 L44.8,120.84 L45.8,126.10 L46.8,131.28 L47.8,136.36 L48.8,141.34 L49.8,146.24 L50.8,151.05 L51.8,155.77 L52.8,160.40 L53.8,164.96 L54.8,169.43 L55.8,173.82 L56.8,178.13 L57.8,182.36 L58.8,186.52 L59.8,190.60 L60.8,194.61 L61.8,198.55 L62.8,202.42 L63.8,206.22 L64.8,209.95 L65.8,213.62 L66.8,217.22 L67.8,220.75 L68.8,224.23 L69.8,227.64 L70.8,230.99 L71.8,234.28 L72.8,237.52 L73.8,240.69 L74.8,243.81 L75.8,246.88 L76.8,249.89 L77.8,252.85 L78.8,255.76 L79.8,258.61 L80.8,261.42 L81.8,264.18 L82.8,266.89 L83.8,269.55 L84.8,272.16 L85.8,274.73 L86.8,277.26 L87.8,279.74 L88.8,282.17 L89.8,284.57 L90.8,286.92 L91.8,289.23 L92.8,291.50 L93.8,293.74 L94.8,295.93 L95.8,298.09 L96.8,300.20 L97.8,302.29 L98.8,304.33 L99.8,306.34 L100.8,308.32 L101.8,310.26 L102.8,312.17 L103.8,314.04 L104.8,315.89 L105.8,317.70 L106.8,319.48 L107.8,321.23 L108.8,322.95 L109.8,324.64 L110.8,326.30 L111.8,327.94 L112.8,329.54 L113.8,331.12 L114.8,332.68 L115.8,334.20 L116.8,335.70 L117.8,337.18 L118.8,338.63 L119.8,340.06 L120.8,341.46 L121.8,342.84 L122.8,344.19 L123.8,345.53 L124.8,346.84 L125.8,348.13 L126.8,349.40 L127.8,350.65 L128.8,351.88 L129.8,353.08 L130.8,354.27 L131.8,355.44 L132.8,356.59 L133.8,357.73 L134.8,358.84 L135.8,359.94 L136.8,361.02 L137.8,362.08 L138.8,363.13 L139.8,364.16 L140.8,365.17 L141.8,366.17 L142.8,367.16 L143.8,368.12 L144.8,369.08 L145.8,370.02 L146.8,370.95 L147.8,371.86 L148.8,372.76 L149.8,373.65 L150.8,374.52 L151.8,375.38 L152.8,376.24 L153.8,377.07 L154.8,377.90 L155.8,378.72 L156.8,379.52 L157.8,380.32 L158.8,381.10 L159.8,381.88 L160.8,382.64 L161.8,383.40 L162.8,384.15 L163.8,384.89 L164.8,385.61 L165.8,386.33 L166.8,387.05 L167.8,387.75 L168.8,388.45 L169.8,389.14 L170.8,389.82 L171.8,390.50 L172.8,391.16 L173.8,391.83 L174.8,392.48 L175.8,393.13 L176.8,393.77 L177.8,394.41 L178.8,395.04 L179.8,395.67 L180.8,396.29 L181.8,396.91 L182.8,397.52 L183.8,398.13 L184.8,398.73 L185.8,399.33 L186.8,399.93 L187.8,400.52 L188.8,401.11 L189.8,401.69 L190.8,402.27 L191.8,402.85 L192.8,403.42 L193.8,404.00 L194.8,404.57 L195.8,405.13 L196.8,405.70 L197.8,406.26 L198.8,406.82 L199.8,407.38 L200.8,407.93 L201.8,408.49 L202.8,409.04 L203.8,409.59 L204.8,410.14 L205.8,410.69 L206.8,411.24 L207.8,411.78 L208.8,412.33 L209.8,412.88 L210.8,413.42 L211.8,413.96 L212.8,414.51 L213.8,415.05 L214.8,415.59 L215.8,416.13 L216.8,416.68 L217.8,417.22 L218.8,417.76 L219.8,418.30 L220.8,418.84 L221.8,419.39 L222.8,419.93 L223.8,420.47 L224.8,421.01 L225.8,421.56 L226.8,422.10 L227.8,422.65 L228.8,423.19 L229.8,423.74 L230.8,424.28 L231.8,424.83 L232.8,425.38 L233.8,425.93 L234.8,426.48 L235.8,427.03 L236.8,427.58 L237.8,428.13 L238.8,428.68 L239.8,429.23 L240.8,429.79 L241.8,430.34 L242.8,430.90 L243.8,431.46 L244.8,432.01 L245.8,432.57 L246.8,433.13 L247.8,433.69 L248.8,434.26 L249.8,434.82 L250.8,435.38 L251.8,435.94 L252.8,436.51 L253.8,437.08 L254.8,437.64 L255.8,438.21 L256.8,438.78 L257.8,439.35 L258.8,439.91 L259.8,440.48 L260.8,441.06 L261.8,441.63 L262.8,442.20 L263.8,442.77 L264.8,443.34 L265.8,443.92 L266.8,444.49 L267.8,445.06 L268.8,445.64 L269.8,446.21 L270.8,446.79 L271.8,447.36 L272.8,447.93 L273.8,448.51 L274.8,449.08 L275.8,449.66 L276.8,450.23 L277.8,450.81 L278.8,451.38 L279.8,451.95 L280.8,452.53 L281.8,453.10 L282.8,453.67 L283.8,454.24 L284.8,454.81 L285.8,455.38 L286.8,455.95 L287.8,456.52 L288.8,457.09 L289.8,457.65 L290.8,458.22 L291.8,458.78 L292.8,459.34 L293.8,459.91 L294.8,460.47 L295.8,461.02 L296.8,461.58 L297.8,462.14 L298.8,462.69 L299.8,463.24 L300.8,463.79 L301.8,464.34 L302.8,464.89 L303.8,465.43 L304.8,465.97 L305.8,466.51 L306.8,467.05 L307.8,467.59 L308.8,468.12 L309.8,468.65 L310.8,469.18 L311.8,469.70 L312.8,470.23 L313.8,470.75 L314.8,471.26 L315.8,471.78 L316.8,472.29 L317.8,472.80 L318.8,473.30 L319.8,473.80 L320.8,474.30 L321.8,474.80 L322.8,475.29 L323.8,475.78 L324.8,476.26 L325.8,476.75 L326.8,477.22 L327.8,477.70 L328.8,478.17 L329.8,478.63 L330.8,479.10 L331.8,479.55 L332.8,480.01 L333.8,480.46 L334.8,480.90 L335.8,481.35 L336.8,481.78 L337.8,482.22 L338.8,482.65 L339.8,483.07 L340.8,483.49 L341.8,483.90 L342.8,484.31 L343.8,484.72 L344.8,485.12 L345.8,485.52 L346.8,485.91 L347.8,486.29 L348.8,486.67 L349.8,487.05 L350.8,487.42 L351.8,487.78 L352.8,488.14 L353.8,488.50 L354.8,488.85 L355.8,489.19 L356.8,489.53 L357.8,489.86 L358.8,490.18 L359.8,490.50 L360.8,490.82 L361.8,491.12 L362.8,491.43 L363.8,491.72 L364.8,492.01 L365.8,492.29 L366.8,492.57 L367.8,492.84 L368.8,493.10 L369.8,493.36 L370.8,493.61 L371.8,493.85 L372.8,494.08 L373.8,494.31 L374.8,494.53 L375.8,494.74 L376.8,494.95 L377.8,495.14 L378.8,495.33 L379.8,495.51 L380.8,495.69 L381.8,495.85 L382.8,496.00 L383.8,496.15 L384.8,496.29 L385.8,496.42 L386.8,496.53 L387.8,496.64 L388.8,496.74 L389.8,496.83 L390.8,496.91 L391.8,496.98 L392.8,497.04 L393.8,497.08 L394.8,497.12 L395.8,497.14 L396.8,497.15 L397.8,497.15 L398.8,497.13 L399.8,497.10 L400.8,497.06 L401.8,497.00 L402.8,496.93 L403.8,496.84 L404.8,496.73 L405.8,496.61 L406.8,496.46 L407.8,496.30 L408.8,496.12 L409.8,495.92 L410.8,495.70 L411.8,495.47 L412.8,495.21 L413.8,494.93 L414.8,494.63 L415.8,494.32 L416.8,493.98 L417.8,493.62 L418.8,493.24 L419.8,492.84 L420.8,492.42 L421.8,491.98 L422.8,491.52 L423.8,491.04 L424.8,490.54 L425.8,490.02 L426.8,489.48 L427.8,488.91 L428.8,488.33 L429.8,487.72 L430.8,487.10 L431.8,486.45 L432.8,485.79 L433.8,485.10 L434.8,484.39 L435.8,483.66 L436.8,482.91 L437.8,482.14 L438.8,481.35 L439.8,480.54 L440.8,479.71 L441.8,478.85 L442.8,477.98 L443.8,477.08 L444.8,476.16 L445.8,475.22 L446.8,474.26 L447.8,473.28 L448.8,472.27 L449.8,471.24 L450.8,470.18 L451.8,469.11 L452.8,468.01 L453.8,466.88 L454.8,465.73 L455.8,464.56 L456.8,463.36 L457.8,462.13 L458.8,460.88 L459.8,459.60 L460.8,458.29 L461.8,456.95 L462.8,455.59 L463.8,454.19 L464.8,452.77 L465.8,451.31 L466.8,449.83 L467.8,448.31 L468.8,446.76 L469.8,445.17 L470.8,443.55 L471.8,441.89 L472.8,440.20 L473.8,438.47 L474.8,436.70 L475.8,434.89 L476.8,433.05 L477.8,431.16 L478.8,429.23 L479.8,427.25 L480.8,425.24 L481.8,423.17 L482.8,421.06 L483.8,418.91 L484.8,416.70 L485.8,414.45 L486.8,412.14 L487.8,409.78 L488.8,407.37 L489.8,404.91 L490.8,402.39 L491.8,399.81 L492.8,397.18 L493.8,394.49 L494.8,391.73 L495.8,388.92 L496.8,386.04 L497.8,383.10 L498.8,380.10 L499.8,377.03 L500.8,373.89 L501.8,370.69 L502.8,367.41 L503.8,364.07 L504.8,360.65 L505.8,357.16 L506.8,353.60 L507.8,349.96 L508.8,346.25 L509.8,342.46 L510.8,338.60 L511.8,334.65 L512.8,330.62 L513.8,326.52 L514.8,322.33 L515.8,318.06 L516.8,313.71 L517.8,309.28 L518.8,304.76 L519.8,300.16 L520.8,295.47 L521.8,290.70 L522.8,285.84 L523.8,280.89 L524.8,275.86 L525.8,270.74 L526.8,265.54 L527.8,260.24 L528.8,254.86 L529.8,249.40 L530.8,243.84 L531.8,238.20 L532.8,232.47 L533.8,226.66 L534.8,220.76 L535.8,214.78 L536.8,208.72 L537.8,202.57 L538.8,196.33 L539.8,190.02 L540.8,183.63 L541.8,177.16 L542.8,170.61 L543.8,163.99 L544.8,157.29 L545.8,150.52 L546.8,143.68 L547.8,136.77 L548.8,129.80 L549.8,122.76 L550.8,115.67 L551.8,108.51 L552.8,101.30 L553.8,94.04 L554.8,86.73 L555.8,79.37"/>
<rect x="43.6" y="257.6" width="48.4" height="56" fill="#fff" fill-opacity="0.62" stroke="#f0f0f0" stroke-width="1"/>
<text x="54.9" y="298.2" font-size="22" font-style="italic" stroke="#000" stroke-width="0.35">s</text>
<path fill="#000" d="M54.70,282.70 L58.51,276.80 L60.49,276.80 L64.30,282.70 L61.53,282.70 L59.50,279.59 L57.47,282.70 Z"/>
<text x="67.9" y="286.0" font-size="19.8" stroke="#000" stroke-width="0.35">6</text>
<g stroke="#666" stroke-width="0.65" fill="none">
<path d="M14.3,360.45 H796"/>
<path d="M397.05,47.9 V530.8" stroke-width="0.8"/>
<path d="M14.27,360.45 v-9.4M52.56,360.45 v-5.6M90.85,360.45 v-5.6M129.14,360.45 v-5.6M167.43,360.45 v-5.6M205.72,360.45 v-9.4M244.01,360.45 v-5.6M282.30,360.45 v-5.6M320.59,360.45 v-5.6M358.88,360.45 v-5.6M435.46,360.45 v-5.6M473.75,360.45 v-5.6M512.04,360.45 v-5.6M550.33,360.45 v-5.6M588.62,360.45 v-9.4M626.91,360.45 v-5.6M665.20,360.45 v-5.6M703.49,360.45 v-5.6M741.78,360.45 v-5.6M780.07,360.45 v-9.4"/>
<path d="M397.17,524.49 h5.6M397.17,510.82 h5.6M397.17,497.15 h9.4M397.17,483.48 h5.6M397.17,469.81 h5.6M397.17,456.14 h5.6M397.17,442.47 h5.6M397.17,428.80 h9.4M397.17,415.13 h5.6M397.17,401.46 h5.6M397.17,387.79 h5.6M397.17,374.12 h5.6M397.17,346.78 h5.6M397.17,333.11 h5.6M397.17,319.44 h5.6M397.17,305.77 h5.6M397.17,292.10 h9.4M397.17,278.43 h5.6M397.17,264.76 h5.6M397.17,251.09 h5.6M397.17,237.42 h5.6M397.17,223.75 h9.4M397.17,210.08 h5.6M397.17,196.41 h5.6M397.17,182.74 h5.6M397.17,169.07 h5.6M397.17,155.40 h9.4M397.17,141.73 h5.6M397.17,128.06 h5.6M397.17,114.39 h5.6M397.17,100.72 h5.6M397.17,87.05 h9.4M397.17,73.38 h5.6M397.17,59.71 h5.6"/>
</g>
<text y="387.3" font-size="22.5" stroke="#000" stroke-width="0.35"><tspan x="0.0" dy="1.2">−</tspan><tspan x="13.5" dy="-1.2">2</tspan></text>
<text y="387.3" font-size="22.5" stroke="#000" stroke-width="0.35"><tspan x="191.8" dy="1.2">−</tspan><tspan x="205.10000000000002" dy="-1.2">1</tspan></text>
<text x="582.2" y="387.3" font-size="22.5" stroke="#000" stroke-width="0.35">1</text>
<text x="772.7" y="387.3" font-size="22.5" stroke="#000" stroke-width="0.35">2</text>
<text x="302.0 315.3" y="97.8" font-size="22" stroke="#000" stroke-width="0.35">4.</text><text x="323.5" y="97.8" font-size="22" stroke="#000" stroke-width="0.35">×</text><text x="339.8" y="97.8" font-size="22" stroke="#000" stroke-width="0.35">10</text><text y="87.7" font-size="19.8" stroke="#000" stroke-width="0.35"><tspan x="365.1" dy="1.3">−</tspan><tspan x="376.6" dy="-1.3">7</tspan></text>
<text x="302.0 315.3" y="166.1" font-size="22" stroke="#000" stroke-width="0.35">3.</text><text x="323.5" y="166.1" font-size="22" stroke="#000" stroke-width="0.35">×</text><text x="339.8" y="166.1" font-size="22" stroke="#000" stroke-width="0.35">10</text><text y="156.0" font-size="19.8" stroke="#000" stroke-width="0.35"><tspan x="365.1" dy="1.3">−</tspan><tspan x="376.6" dy="-1.3">7</tspan></text>
<text x="302.0 315.3" y="234.4" font-size="22" stroke="#000" stroke-width="0.35">2.</text><text x="323.5" y="234.4" font-size="22" stroke="#000" stroke-width="0.35">×</text><text x="339.8" y="234.4" font-size="22" stroke="#000" stroke-width="0.35">10</text><text y="224.3" font-size="19.8" stroke="#000" stroke-width="0.35"><tspan x="365.1" dy="1.3">−</tspan><tspan x="376.6" dy="-1.3">7</tspan></text>
<text x="302.0 315.3" y="302.8" font-size="22" stroke="#000" stroke-width="0.35">1.</text><text x="323.5" y="302.8" font-size="22" stroke="#000" stroke-width="0.35">×</text><text x="339.8" y="302.8" font-size="22" stroke="#000" stroke-width="0.35">10</text><text y="292.7" font-size="19.8" stroke="#000" stroke-width="0.35"><tspan x="365.1" dy="1.3">−</tspan><tspan x="376.6" dy="-1.3">7</tspan></text>
<text x="288.9" y="440.7" font-size="22" stroke="#000" stroke-width="0.35">−</text><text x="302.0 315.3" y="439.5" font-size="22" stroke="#000" stroke-width="0.35">1.</text><text x="323.5" y="439.5" font-size="22" stroke="#000" stroke-width="0.35">×</text><text x="339.8" y="439.5" font-size="22" stroke="#000" stroke-width="0.35">10</text><text y="429.4" font-size="19.8" stroke="#000" stroke-width="0.35"><tspan x="365.1" dy="1.3">−</tspan><tspan x="376.6" dy="-1.3">7</tspan></text>
<text x="288.9" y="509.0" font-size="22" stroke="#000" stroke-width="0.35">−</text><text x="302.0 315.3" y="507.8" font-size="22" stroke="#000" stroke-width="0.35">2.</text><text x="323.5" y="507.8" font-size="22" stroke="#000" stroke-width="0.35">×</text><text x="339.8" y="507.8" font-size="22" stroke="#000" stroke-width="0.35">10</text><text y="497.7" font-size="19.8" stroke="#000" stroke-width="0.35"><tspan x="365.1" dy="1.3">−</tspan><tspan x="376.6" dy="-1.3">7</tspan></text>
<text x="374.3" y="26.8" font-size="23" font-style="italic" fill="#5c5c5c" stroke="#5c5c5c" stroke-width="0.3">V</text>
<text transform="translate(391.6,26.9) scale(1,1.09)" font-size="21.5" fill="#5c5c5c" stroke="#5c5c5c" stroke-width="0.3">(</text>
<text x="399.9" y="26.7" font-size="21.5" font-style="italic" fill="#5c5c5c" stroke="#5c5c5c" stroke-width="0.3">s</text>
<text transform="translate(413.7,26.9) scale(1,1.09)" font-size="21.5" fill="#5c5c5c" stroke="#5c5c5c" stroke-width="0.3">)</text>
<path fill="#5c5c5c" d="M400.00,10.90 L403.69,5.20 L405.61,5.20 L409.30,10.90 L406.62,10.90 L404.65,7.89 L402.68,10.90 Z"/>
<text x="814.9" y="370.3" font-size="22" font-style="italic" fill="#5c5c5c" stroke="#5c5c5c" stroke-width="0.3">s</text>
<path fill="#5c5c5c" d="M814.50,354.80 L818.35,349.30 L820.35,349.30 L824.20,354.80 L821.40,354.80 L819.35,351.90 L817.30,354.80 Z"/>
</g>
</svg>
</body></html>
